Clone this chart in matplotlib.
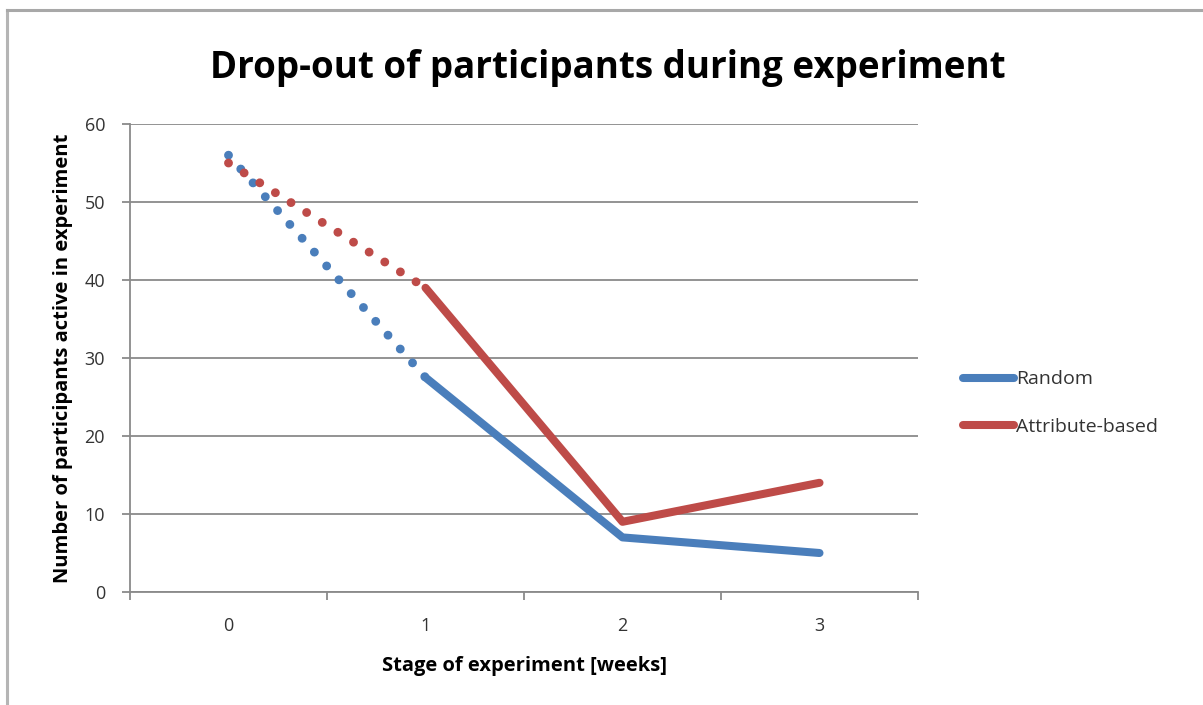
import matplotlib
matplotlib.use("Agg")
import matplotlib.pyplot as plt
from matplotlib.lines import Line2D

# Data
stages = [0, 1, 2, 3]
stage_labels = ["0", "1", "2", "3"]
random_group = [56, 27.5, 7, 5]
attribute_group = [55, 39, 9, 14]
y_ticks = [0, 10, 20, 30, 40, 50, 60]

BLUE = "#4a7ebb"
RED = "#be4b48"
GRID = "#8a8a8a"
FONT = ["Open Sans", "DejaVu Sans"]

fig = plt.figure(figsize=(12.03, 7.05), dpi=100)
fig.patch.set_facecolor("white")

# Outer frame (left and top edges)
fig.add_artist(Line2D([7 / 1203, 7 / 1203], [0, 1 - 10 / 705], color="#b5b5b5", lw=2.2,
                      transform=fig.transFigure))
fig.add_artist(Line2D([7 / 1203, 1], [1 - 10 / 705, 1 - 10 / 705], color="#a8a8a8", lw=2.2,
                      transform=fig.transFigure))

ax = fig.add_axes([130 / 1203, 1 - 592 / 705, (918 - 130) / 1203, (592 - 124) / 705])

lw = 5.8
dot_lw = 6.4
dot_style = (0, (0.001, 2.08))

for vals, col, name in [(random_group, BLUE, "Random"), (attribute_group, RED, "Attribute-based")]:
    # first week drawn dotted, later weeks solid
    ax.plot(stages[:2], vals[:2], color=col, lw=dot_lw, linestyle=dot_style,
            dash_capstyle="round", solid_capstyle="round")
    ax.plot(stages[1:], vals[1:], color=col, lw=lw, solid_capstyle="round",
            solid_joinstyle="round", label=name)

ax.set_xlim(-0.5, 3.5)
ax.set_ylim(0, 60)
ax.set_yticks(y_ticks)
ax.set_yticklabels([str(v) for v in y_ticks], fontsize=13, family=FONT, color="#333333")
ax.set_xticks(stages)
ax.set_xticklabels(stage_labels, fontsize=13, family=FONT, color="#333333")
ax.set_xticks([-0.5, 0.5, 1.5, 2.5, 3.5], minor=True)
ax.tick_params(axis="x", which="major", length=0, pad=18)
ax.tick_params(axis="x", which="minor", length=6, width=1.3, color=GRID, direction="out")
ax.tick_params(axis="y", length=6, width=1.3, color=GRID, direction="out", pad=12)

ax.grid(axis="y", color=GRID, lw=1.3)
ax.set_axisbelow(True)
for s in ["top", "right"]:
    ax.spines[s].set_visible(False)
for s in ["left", "bottom"]:
    ax.spines[s].set_color(GRID)
    ax.spines[s].set_linewidth(1.3)

ax.set_xlabel("Stage of experiment [weeks]", fontsize=14.5, fontweight="bold", family=FONT,
              labelpad=15)
ax.set_ylabel("Number of participants active in experiment", fontsize=14.5, fontweight="bold",
              family=FONT, labelpad=8)

fig.text(0.505, 1 - 68 / 705, "Drop-out of participants during experiment", ha="center",
         va="center", fontsize=26.5, fontweight="bold", family=FONT)

handles = [Line2D([0], [0], color=BLUE, lw=lw, solid_capstyle="round"),
           Line2D([0], [0], color=RED, lw=lw, solid_capstyle="round")]
fig.legend(handles, ["Random", "Attribute-based"], loc="center left",
           bbox_to_anchor=(946 / 1203, 1 - 403 / 705), frameon=False, handlelength=2.6,
           handletextpad=0.1, labelspacing=1.5, prop={"family": FONT, "size": 14},
           labelcolor="#333333")

fig.savefig("out.png", dpi=100)
